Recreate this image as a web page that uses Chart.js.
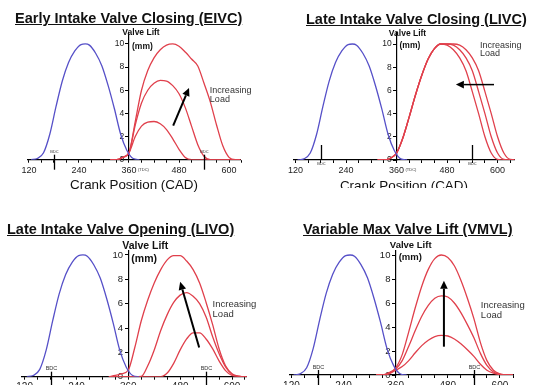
<!DOCTYPE html>
<html>
<head>
<meta charset="utf-8">
<script src="https://cdn.jsdelivr.net/npm/chart.js@4.4.1/dist/chart.umd.min.js"></script>
<style>
html, body { margin: 0; padding: 0; background: #fff; width: 538px; height: 385px; overflow: hidden; position: relative; font-family: "Liberation Sans", Arial, sans-serif; }
.panel { position: absolute; overflow: hidden; }
.title { position: absolute; font-weight: bold; font-size: 14.5px; line-height: 1; text-decoration: underline; white-space: nowrap; color: #111; }
</style>
</head>
<body>
<div class="panel" style="left:0;top:0;width:269px;height:200px"><canvas id="eivc" width="269" height="200"></canvas></div>
<div class="panel" style="left:268px;top:0;width:270px;height:188px"><canvas id="livc" width="270" height="200"></canvas></div>
<div class="panel" style="left:0;top:195px;width:269px;height:190px"><canvas id="livo" width="269" height="235"></canvas></div>
<div class="panel" style="left:268px;top:195px;width:270px;height:190px"><canvas id="vmvl" width="270" height="235"></canvas></div>

<div class="title" style="left:15px;top:11px">Early Intake Valve Closing (EIVC)</div>
<div class="title" style="left:306px;top:11.5px">Late Intake Valve Closing (LIVC)</div>
<div class="title" style="left:7px;top:222px">Late Intake Valve Opening (LIVO)</div>
<div class="title" style="left:303px;top:222px">Variable Max Valve Lift (VMVL)</div>

<script>
Chart.defaults.font.family = '"Liberation Sans", Arial, sans-serif';

// exhaust valve (blue), same in every panel
const blueAngles = [125, 140, 155, 170, 185, 200, 215, 230, 245, 255, 265, 280, 295, 310, 325, 340, 355, 370, 385];
const blueLift   = [0, 0.1, 0.6, 2.2, 4.6, 6.8, 8.4, 9.4, 9.95, 10, 9.9, 9.2, 8.1, 6.4, 4.4, 2.2, 0.8, 0.1, 0];

// intake valve (red) curves, all on this crank angle grid
const redAngles = [315, 330, 345, 360, 375, 390, 405, 420, 435, 450, 465, 480, 495, 510, 525, 540, 555, 570, 585, 600, 615, 630, 645];

const eivcHigh = [0, 0, 0.2, 0.6, 3.3, 6.0, 7.7, 8.8, 9.5, 9.9, 10, 9.8, 9.3, 8.7, 8.1, 6.6, 5.0, 3.0, 1.2, 0.2, 0, 0, 0];
const eivcMid  = [0, 0, 0.2, 0.6, 3.0, 4.9, 6.0, 6.6, 6.85, 6.8, 6.4, 5.7, 4.5, 2.9, 1.3, 0.3, 0, 0, 0, 0, 0, 0, 0];
const eivcLow  = [0, 0, 0.2, 0.6, 2.0, 2.9, 3.25, 3.3, 3.1, 2.6, 1.8, 0.9, 0.2, 0, 0, 0, 0, 0, 0, 0, 0, 0, 0];

const livcA = [0, 0, 0.15, 0.6, 1.9, 3.7, 5.6, 7.3, 8.7, 9.6, 10, 9.9, 9.5, 8.8, 7.7, 5.9, 4.0, 2.0, 0.6, 0.05, 0, 0, 0];
const livcB = [0, 0, 0.15, 0.6, 1.9, 3.7, 5.6, 7.3, 8.7, 9.6, 10, 10, 9.9, 9.5, 8.8, 7.7, 5.9, 4.0, 2.0, 0.6, 0.05, 0, 0];
const livcC = [0, 0, 0.15, 0.6, 1.9, 3.7, 5.6, 7.3, 8.7, 9.6, 10, 10, 10, 9.9, 9.5, 8.8, 7.7, 5.9, 4.0, 2.0, 0.6, 0.05, 0];

const livoHigh = [0, 0.1, 0.25, 0.55, 2.4, 4.6, 6.3, 7.7, 8.8, 9.6, 9.95, 9.95, 9.5, 8.8, 7.7, 6.1, 4.3, 2.3, 0.9, 0.25, 0.05, 0, 0];
const livoMid  = [0, 0, 0, 0, 0, 0.02, 0.9, 2.2, 3.8, 5.1, 6.1, 6.7, 6.9, 6.6, 6.0, 4.9, 3.3, 1.9, 0.8, 0.2, 0.05, 0, 0];
const livoLow  = [0, 0, 0, 0, 0, 0, 0, 0, 0, 0.3, 1.1, 2.2, 3.1, 3.6, 3.6, 3.1, 2.3, 1.3, 0.5, 0.1, 0, 0, 0];

const vmvlHigh = [0, 0, 0.2, 0.6, 1.7, 3.6, 5.6, 7.4, 8.8, 9.7, 10, 9.8, 9.1, 7.9, 6.4, 4.7, 2.7, 1.2, 0.4, 0.1, 0, 0, 0];
const vmvlMid  = [0, 0, 0.15, 0.5, 1.2, 2.4, 3.7, 4.9, 5.8, 6.4, 6.6, 6.5, 6.0, 5.2, 4.2, 3.1, 1.8, 0.8, 0.25, 0.05, 0, 0, 0];
const vmvlLow  = [0, 0, 0.1, 0.4, 0.7, 1.2, 1.85, 2.45, 2.9, 3.2, 3.3, 3.25, 3.0, 2.6, 2.1, 1.55, 0.9, 0.4, 0.15, 0.03, 0, 0, 0];

const xTickValues  = [120, 150, 180, 210, 240, 270, 300, 330, 360, 390, 420, 450, 480, 510, 540, 570, 600, 630];
const xLabelValues = [120, 240, 360, 480, 600];
const yTickValues  = [0, 2, 4, 6, 8, 10];
const bdcAngles    = [180, 540];

const BLUE = '#5650c8';
const RED = '#e0404c';

function pts(xs, ys) {
    return xs.map((a, i) => ({ x: a, y: ys[i] }));
}

const markup = {
    id: 'markup',
    afterDraw(chart, args, o) {
        const { ctx } = chart;
        const x = chart.scales.x, y = chart.scales.y;
        const ax = x.getPixelForValue(360);
        const base = y.getPixelForValue(0);
        ctx.save();

        // BDC marks
        ctx.strokeStyle = '#000';
        ctx.lineWidth = 1.3;
        ctx.fillStyle = '#333';
        ctx.font = o.bdcFont;
        ctx.textAlign = 'center';
        ctx.textBaseline = 'middle';
        bdcAngles.forEach(a => {
            const px = Math.round(x.getPixelForValue(a)) + 0.5;
            ctx.beginPath();
            ctx.moveTo(px, base + o.bdcTick[0]);
            ctx.lineTo(px, base + o.bdcTick[1]);
            ctx.stroke();
            ctx.fillText('BDC', px, base + o.bdcText);
        });
        if (o.tdc) {
            ctx.textAlign = 'left';
            ctx.fillText('(TDC)', ax + 9, base + 10);
        }

        // axis caption
        ctx.fillStyle = '#111';
        ctx.font = o.liftFont;
        ctx.textAlign = 'center';
        ctx.fillText('Valve Lift', ax + o.liftDx, y.getPixelForValue(o.liftAt));
        ctx.textAlign = 'left';
        ctx.fillText('(mm)', ax + 3, y.getPixelForValue(o.mmAt));

        // load note
        ctx.fillStyle = '#333';
        ctx.font = o.noteFont;
        const nx = x.getPixelForValue(o.note[0]);
        ctx.fillText('Increasing', nx, y.getPixelForValue(o.note[1]));
        ctx.fillText('Load', nx, y.getPixelForValue(o.note[2]));

        // arrow
        const x1 = x.getPixelForValue(o.arrowFrom[0]), y1 = y.getPixelForValue(o.arrowFrom[1]);
        const x2 = x.getPixelForValue(o.arrowTo[0]), y2 = y.getPixelForValue(o.arrowTo[1]);
        const ang = Math.atan2(y2 - y1, x2 - x1);
        const head = 8, hw = 3.8;
        const c = Math.cos(ang), s = Math.sin(ang);
        ctx.strokeStyle = '#000';
        ctx.fillStyle = '#000';
        ctx.lineWidth = o.arrowWidth;
        ctx.beginPath();
        ctx.moveTo(x1, y1);
        ctx.lineTo(x2 - head * c, y2 - head * s);
        ctx.stroke();
        ctx.beginPath();
        ctx.moveTo(x2, y2);
        ctx.lineTo(x2 - head * c + hw * s, y2 - head * s - hw * c);
        ctx.lineTo(x2 - head * c - hw * s, y2 - head * s + hw * c);
        ctx.closePath();
        ctx.fill();
        ctx.restore();
    }
};

function makePanel(id, p) {
    const datasets = [{ data: pts(blueAngles, blueLift), borderColor: BLUE }]
        .concat(p.series.map(arr => ({ data: pts(redAngles, arr), borderColor: RED })));
    return new Chart(document.getElementById(id), {
        type: 'line',
        data: { datasets: datasets },
        options: {
            responsive: false,
            animation: false,
            events: [],
            layout: { autoPadding: false, padding: p.pad },
            elements: {
                point: { radius: 0 },
                line: { borderWidth: 1.3, cubicInterpolationMode: 'monotone', fill: false }
            },
            plugins: {
                legend: { display: false },
                tooltip: { enabled: false },
                markup: p.markup
            },
            scales: {
                x: {
                    type: 'linear',
                    min: p.xMin,
                    max: p.xMax,
                    position: 'bottom',
                    afterBuildTicks: s => { s.ticks = xTickValues.map(v => ({ value: v })); },
                    afterFit: s => { s.height = 34; s.paddingLeft = 0; s.paddingRight = 0; },
                    ticks: {
                        autoSkip: false,
                        maxRotation: 0,
                        padding: 2,
                        color: '#222',
                        font: { size: p.xFont },
                        callback: v => xLabelValues.includes(v) ? String(v) : ''
                    },
                    grid: { drawOnChartArea: false, tickLength: 3, tickColor: '#000' },
                    border: { color: '#000', width: 1.2 },
                    title: { display: true, text: 'Crank Position (CAD)', color: '#111', font: { size: 13.4 }, padding: 0 }
                },
                y: {
                    type: 'linear',
                    min: 0,
                    max: p.yMax,
                    position: { x: 360 },
                    afterBuildTicks: s => { s.ticks = yTickValues.map(v => ({ value: v })); },
                    afterFit: s => { s.paddingTop = 0; s.paddingBottom = 0; },
                    // labels are right-aligned on the axis line, pad them off it
                    ticks: { color: '#222', font: { size: p.yFont }, callback: v => v + '  ' },
                    grid: { drawOnChartArea: false, tickLength: 3, tickColor: '#000' },
                    border: { color: '#000', width: 1.2 }
                }
            }
        },
        plugins: [markup]
    });
}

makePanel('eivc', {
    xMin: 117, xMax: 627, yMax: 11,
    pad: { left: 27.7, right: 28.7, top: 32.4, bottom: 6.3 },
    xFont: 9, yFont: 8.5,
    series: [eivcHigh, eivcMid, eivcLow],
    markup: {
        bdcTick: [-5, 10], bdcText: -8, bdcFont: '4px "Liberation Sans", Arial', tdc: true,
        liftFont: 'bold 8.5px "Liberation Sans", Arial', liftDx: 12, liftAt: 10.95, mmAt: 9.8,
        noteFont: '9px "Liberation Sans", Arial', note: [554, 6.0, 5.2],
        arrowFrom: [466, 2.94], arrowTo: [504, 6.2], arrowWidth: 2
    }
});

makePanel('livc', {
    xMin: 115, xMax: 640, yMax: 11,
    pad: { left: 25.4, right: 23.6, top: 32.4, bottom: 6 },
    xFont: 9, yFont: 8.5,
    series: [livcA, livcB, livcC],
    markup: {
        bdcTick: [-15, 0], bdcText: 4, bdcFont: '4px "Liberation Sans", Arial', tdc: true,
        liftFont: 'bold 8.5px "Liberation Sans", Arial', liftDx: 11, liftAt: 10.9, mmAt: 9.9,
        noteFont: '9px "Liberation Sans", Arial', note: [558, 9.9, 9.2],
        arrowFrom: [591.6, 6.5], arrowTo: [501, 6.5], arrowWidth: 1.5
    }
});

makePanel('livo', {
    xMin: 113, xMax: 634, yMax: 10.4,
    pad: { left: 21.6, right: 22.3, top: 55.1, bottom: 19.3 },
    xFont: 10, yFont: 9.5,
    series: [livoHigh, livoMid, livoLow],
    markup: {
        bdcTick: [-5, 20], bdcText: -8, bdcFont: '5.5px "Liberation Sans", Arial', tdc: false,
        liftFont: 'bold 10.5px "Liberation Sans", Arial', liftDx: 17, liftAt: 10.74, mmAt: 9.67,
        noteFont: '9.5px "Liberation Sans", Arial', note: [555, 5.95, 5.1],
        arrowFrom: [524, 2.4], arrowTo: [480, 7.8], arrowWidth: 2
    }
});

makePanel('vmvl', {
    xMin: 116, xMax: 630, yMax: 10.4,
    pad: { left: 21.7, right: 25, top: 55.2, bottom: 21 },
    xFont: 10, yFont: 9.5,
    series: [vmvlHigh, vmvlMid, vmvlLow],
    markup: {
        bdcTick: [-5, 20], bdcText: -8, bdcFont: '5.5px "Liberation Sans", Arial', tdc: false,
        liftFont: 'bold 9.5px "Liberation Sans", Arial', liftDx: 15, liftAt: 10.78, mmAt: 9.8,
        noteFont: '9.5px "Liberation Sans", Arial', note: [556, 5.8, 5.0],
        arrowFrom: [471, 2.36], arrowTo: [471, 7.86], arrowWidth: 2
    }
});
</script>
</body>
</html>
